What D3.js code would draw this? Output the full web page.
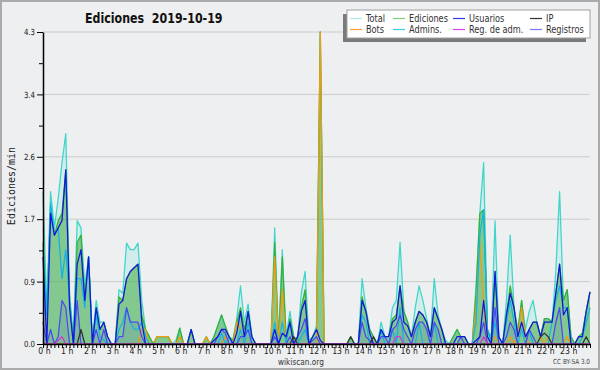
<!DOCTYPE html>
<html><head><meta charset="utf-8">
<script src="https://cdn.jsdelivr.net/npm/d3@7"></script>
<style>body{margin:0;background:#eeeff0;} svg{display:block}</style>
</head><body><svg id="c" width="600" height="370"></svg>
<script>
// 10-minute slots 0..144 (00:00 .. 24:00)
const hourLabels = ["0 h","1 h","2 h","3 h","4 h","5 h","6 h","7 h","8 h","9 h","10 h","11 h","12 h","13 h","14 h","15 h","16 h","17 h","18 h","19 h","20 h","21 h","22 h","23 h"];
const yTickValues = [0, 0.86, 1.72, 2.58, 3.44, 4.3];
const legendNames = ["Total","Ediciones","Usuarios","IP","Bots","Admins.","Reg. de adm.","Registros"];

const total = [
 2.1,0.5,2.1,1.6,2.0,2.5,
 2.9,0.7,0.1,1.7,1.6,0.8,
 1.2,0.05,0.6,0.3,0.3,0.1,
 0,0,0.75,0.7,1.39,1.3,
 1.3,1.39,0.6,0.2,0.1,0,
 0.1,0.1,0.1,0.1,0,0.05,
 0.22,0,0,0.2,0,0,
 0,0.1,0,0.1,0.25,0.4,
 0.2,0.1,0.05,0.35,0.8,0.3,
 0.55,0.1,0,0,0,0,
 0,1.6,0.05,1.3,0.1,0.45,
 0.1,0.05,0.7,1.0,0.05,0.1,
 0.25,4.3,0,0,0,0,
 0,0,0,0.1,0,0,
 0.9,0.5,0.2,0.1,0,0.3,
 0.1,0.1,0.5,0.6,1.4,0.45,
 0.3,0.1,0.5,0.8,0.6,0.35,
 0.1,0.9,0.4,0.2,0.05,0,
 0.1,0.2,0.1,0.1,0,0,
 0.8,1.8,2.5,0.2,0.1,1.7,
 0.1,0,0.6,1.5,0.5,0.2,
 0.6,0.2,0.45,0.6,0.3,0.1,
 0.35,0.35,0.3,1.0,2.1,0.6,
 0.75,0.1,0,0.1,0.15,0.45,0.72];

const ediciones = [
 1.4,0.4,1.9,1.5,1.7,1.8,
 2.4,0.6,0,1.4,1.5,0.6,
 1.2,0,0.5,0.2,0.3,0.1,
 0,0,0.65,0.6,0.9,1.0,
 1.05,1.1,0.4,0.2,0.1,0,
 0.1,0.1,0.1,0.1,0,0,
 0.22,0,0,0.2,0,0,
 0,0.1,0,0.1,0.25,0.4,
 0.25,0.1,0.05,0.3,0.5,0.2,
 0.45,0.1,0,0,0,0,
 0,1.4,0,1.2,0.05,0.35,
 0.1,0.05,0.5,0.75,0,0.1,
 0.2,4.3,0,0,0,0,
 0,0,0,0.1,0,0,
 0.65,0.45,0.2,0.1,0,0.2,
 0.1,0.1,0.35,0.4,0.8,0.45,
 0.3,0.1,0.3,0.45,0.4,0.3,
 0.1,0.5,0.35,0.2,0,0,
 0.1,0.2,0.1,0.1,0,0,
 0.7,1.8,1.85,0.2,0.05,1.0,
 0.1,0,0.4,0.8,0.5,0.15,
 0.6,0.1,0.2,0.3,0.3,0.1,
 0.35,0.35,0.3,0.7,1.1,0.6,
 0.75,0.1,0,0.1,0.15,0.45,0.72];

const usuarios = [
 1.2,0,1.8,1.5,1.6,1.7,
 2.4,0.5,0,1.1,1.3,0.6,
 1.2,0,0.5,0.2,0.3,0.1,
 0,0,0.55,0.6,0.9,1.0,
 1.05,1.1,0.3,0,0,0,
 0,0,0,0,0,0,
 0,0,0,0.2,0,0,
 0,0,0,0.05,0.1,0.2,
 0.2,0.1,0,0.15,0.45,0.1,
 0.45,0.1,0,0,0,0,
 0,0.2,0,0.15,0.1,0.3,
 0,0.1,0.45,0.6,0,0.1,
 0.2,0.05,0,0,0,0,
 0,0,0,0,0,0,
 0.6,0.45,0.15,0,0,0.2,
 0.1,0.1,0.3,0.35,0.8,0.3,
 0.25,0.1,0.3,0.45,0.4,0.3,
 0.1,0.5,0.35,0.2,0,0,
 0,0.1,0.1,0.1,0,0,
 0.05,0.1,0.6,0.1,0,1.0,
 0.1,0,0.4,0.7,0.5,0.1,
 0.3,0.1,0.2,0.3,0.3,0.1,
 0.3,0.3,0.3,0.7,1.1,0.4,
 0.5,0,0,0.1,0.1,0.45,0.72];

const admins = [
 1.3,0.4,1.95,1.5,1.6,0.9,
 1.3,0.6,0,0.9,0.9,0.5,
 1.2,0,0.4,0.1,0.05,0,
 0,0,0.2,0.3,0.5,0.3,
 0.2,0.2,0.3,0.1,0,0,
 0,0,0,0,0,0,
 0,0,0,0,0,0,
 0,0,0,0,0,0.15,
 0,0.1,0,0,0.2,0,
 0.3,0,0,0,0,0,
 0,0.3,0,0.3,0,0.3,
 0,0,0.1,0.2,0,0,
 0,0,0,0,0,0,
 0,0,0,0,0,0,
 0.4,0.3,0,0,0,0.2,
 0,0,0.2,0,0.5,0,
 0,0,0,0.3,0,0,
 0,0.3,0,0,0,0,
 0,0,0,0,0,0,
 0.3,1.5,1.85,0.2,0,0.3,
 0,0,0.3,0.6,0.3,0,
 0.2,0,0.2,0,0,0,
 0,0,0.3,0.6,0.8,0.5,
 0.5,0,0,0,0.1,0.3,0.5];

const registros = [
 0.3,0,0.2,0,0.1,0.6,
 0.5,0,0,0.6,0,0,
 0,0,0.2,0,0.2,0,
 0,0,0.1,0.1,0.5,0.3,
 0.3,0.3,0.1,0,0,0,
 0,0,0,0,0,0,
 0,0,0,0,0,0,
 0,0,0,0,0.1,0.2,
 0.15,0,0,0,0.1,0.1,
 0.2,0,0,0,0,0,
 0,0.1,0,0,0,0.1,
 0,0.1,0.2,0.35,0,0.05,
 0.1,0,0,0,0,0,
 0,0,0,0,0,0,
 0.3,0.1,0.05,0,0,0.1,
 0.1,0,0.2,0.25,0.4,0.2,
 0.1,0,0.2,0.3,0.3,0.2,
 0,0.3,0.2,0,0,0,
 0,0,0.1,0,0,0,
 0,0.1,0.3,0,0,0.5,
 0,0,0.1,0.3,0.2,0,
 0,0,0.2,0.1,0,0,
 0,0,0,0.3,0.5,0,
 0,0,0,0,0,0,0];

const bots = [
 0,0,0,0,0,0,
 0,0,0,0,0,0,
 0,0,0,0,0,0,
 0,0,0,0,0,0,
 0,0,0.2,0.2,0,0,
 0.1,0.1,0.1,0.1,0,0,
 0.1,0,0,0,0,0,
 0,0.1,0,0,0,0,
 0.1,0,0,0.3,0.2,0,
 0,0,0,0,0,0,
 0,1.2,0,0.75,0,0,
 0,0,0,0,0,0,
 0,4.3,0,0,0,0,
 0,0,0,0,0,0,
 0,0,0,0,0,0,
 0,0,0,0,0,0,
 0,0,0,0,0,0,
 0,0,0,0,0,0,
 0,0,0,0,0,0,
 0.5,1.4,0.5,0,0,0.1,
 0,0,0,0.1,0,0.1,
 0.5,0.1,0,0,0,0.1,
 0,0.1,0,0,0,0,
 0.1,0,0,0,0,0,0];

const ip = [
 0,0,0,0,0,0,
 0,0,0,0,0.2,0,
 0,0,0,0,0,0,
 0,0,0,0,0,0,
 0,0,0,0,0,0,
 0,0,0,0,0,0,
 0,0,0,0,0,0,
 0,0,0,0,0,0,
 0,0,0,0,0,0,
 0,0,0,0,0,0,
 0,0,0,0,0,0,
 0.1,0,0,0,0,0,
 0,0,0,0,0,0,
 0,0,0,0.1,0,0,
 0,0,0,0.1,0,0,
 0,0,0,0,0,0,
 0,0,0,0,0,0,
 0,0,0,0,0,0,
 0,0,0,0,0,0,
 0,0,0,0,0,0,
 0,0,0,0,0,0,
 0,0,0,0,0,0.1,
 0.15,0.1,0,0,0,0,
 0,0,0,0,0,0.1,0];

const regAdm = [
 0,0,0,0,0.05,0.1,
 0,0,0,0,0,0,
 0,0,0,0,0,0,
 0,0,0,0,0,0,
 0,0,0,0,0,0,
 0,0,0,0,0,0,
 0,0,0,0,0,0,
 0,0,0,0,0,0,
 0,0,0,0,0,0,
 0,0,0,0,0,0,
 0,0,0,0,0,0,
 0,0,0,0,0,0,
 0,0,0,0,0,0,
 0,0,0,0,0,0,
 0,0,0,0,0,0,
 0,0,0,0.1,0.1,0,
 0,0,0,0,0,0,
 0,0,0,0,0,0,
 0,0,0,0,0,0,
 0,0,0.1,0,0,0,
 0,0,0,0,0,0,
 0,0,0,0,0,0,
 0,0,0,0,0,0,
 0,0,0,0,0,0,0];

const FONT = '"DejaVu Sans",sans-serif';
const SX = 0.82; // condensed look
const svg = d3.select("#c");
svg.append("rect").attr("x",1).attr("y",1).attr("width",598).attr("height",368)
  .attr("fill","#eeeff0").attr("stroke","#ababab").attr("stroke-width",2);

const x = d3.scaleLinear().domain([0,144]).range([43,590]);
const y = d3.scaleLinear().domain([0,4.3]).range([344,32]);

function ctext(parent, px, py, str, size, anchor, weight, fill){
  return parent.append("text").attr("transform",`translate(${px},${py}) scale(${SX},1)`)
    .attr("text-anchor",anchor||"start").attr("font-family",FONT).attr("font-size",size)
    .attr("font-weight",weight||"normal").attr("fill",fill||"#222").style("white-space","pre").text(str);
}

// grid
svg.append("g").selectAll("line").data(yTickValues.slice(1)).join("line")
  .attr("x1",43).attr("x2",590).attr("y1",d=>y(d)).attr("y2",d=>y(d))
  .attr("stroke","#cbcbcb").attr("stroke-width",1);

const plot = svg.append("g");
const area = d => d3.area().x((v,i)=>x(i)).y0(y(0)).y1(v=>y(v))(d);
const line = d => d3.line().x((v,i)=>x(i)).y(v=>y(v))(d);

plot.append("path").attr("d",area(total)).attr("fill","rgba(64,224,208,0.16)");
plot.append("path").attr("d",area(ediciones)).attr("fill","rgba(60,168,60,0.52)");
plot.append("path").attr("d",area(registros)).attr("fill","rgba(70,70,230,0.12)");

const lineSeries = [
  {d: total, c: "#3ed6c8"},
  {d: ediciones, c: "#38b038"},
  {d: bots, c: "#f39a12"},
  {d: admins, c: "#12b4e4"},
  {d: registros, c: "#4a4af2"},
  {d: usuarios, c: "#1515dd"},
  {d: ip, c: "#333333"},
  {d: regAdm, c: "#d535d5"}
];
plot.selectAll("path.ln").data(lineSeries).join("path").attr("class","ln")
  .attr("d",s=>line(s.d)).attr("fill","none").attr("stroke",s=>s.c)
  .attr("stroke-width",1.25).attr("stroke-linejoin","round");

// axes
const xMinor = d3.axisBottom(x).tickValues(d3.range(0,145)).tickSize(4).tickSizeOuter(0).tickFormat("");
const gx = svg.append("g").attr("transform","translate(0,344)").call(xMinor);
gx.select(".domain").attr("stroke","#000").attr("stroke-width",1.5);
gx.selectAll(".tick line").attr("stroke","#000");
const xLab = d3.axisBottom(x).tickValues(d3.range(0,144,6)).tickSize(0).tickFormat(i=>hourLabels[i/6]);
const gx2 = svg.append("g").attr("transform","translate(0,344)").call(xLab);
gx2.select(".domain").remove();
gx2.selectAll("text").attr("dy",0).attr("y",10).attr("transform",`translate(1,0) scale(${SX},1)`)
  .attr("font-family",FONT).attr("font-size",9.5).attr("fill","#222");

const yMinor = d3.axisLeft(y).tickValues([0.43,1.29,2.15,3.01,3.87]).tickSize(4).tickFormat("");
const gy2 = svg.append("g").attr("transform","translate(43,0)").call(yMinor);
gy2.select(".domain").remove();
gy2.selectAll(".tick line").attr("stroke","#000");
const yAx = d3.axisLeft(y).tickValues(yTickValues).tickSize(6).tickSizeOuter(0).tickPadding(2).tickFormat(d3.format(".1f"));
const gy = svg.append("g").attr("transform","translate(43,0)").call(yAx);
gy.select(".domain").attr("stroke","#000").attr("stroke-width",1.5);
gy.selectAll(".tick line").attr("stroke","#000");
gy.selectAll("text").attr("x",0).attr("transform",`translate(-8,0) scale(${SX},1)`)
  .attr("font-family",FONT).attr("font-size",8.5).attr("fill","#222");

// labels
ctext(svg, 85, 23, "Ediciones  2019-10-19", 13.5, "start", "bold", "#111");
svg.append("text").attr("transform","translate(15,186) rotate(-90)").attr("text-anchor","middle")
  .text("Ediciones/min").attr("font-family",'"DejaVu Sans Mono",monospace').attr("font-size",10).attr("fill","#222");
ctext(svg, 301, 365, "wikiscan.org", 9, "middle", "normal", "#333");
ctext(svg, 590, 364, "CC BY-SA 3.0", 7, "end", "normal", "#444");

// legend
const lg = svg.append("g");
lg.append("rect").attr("x",343).attr("y",14).attr("width",243).attr("height",28).attr("fill","#7a7a7a");
lg.append("rect").attr("x",347).attr("y",10).attr("width",243).attr("height",28).attr("fill","#fff").attr("stroke","#a0a0a0");
const legendColors = ["#a8ecec","#7fd07f","#3535f5","#333333","#f6a030","#38d0e6","#e040e8","#7878ff"];
const colX = [350,393,453,530];
const rowY = [18.5,29.5];
legendNames.forEach((n,k)=>{
  const cx = colX[k%4], ry = rowY[Math.floor(k/4)];
  lg.append("line").attr("x1",cx).attr("x2",cx+12).attr("y1",ry).attr("y2",ry)
    .attr("stroke",legendColors[k]).attr("stroke-width",1.2);
  ctext(lg, cx+16, ry+3.7, n, 10, "start", "normal", "#333");
});
</script></body></html>
